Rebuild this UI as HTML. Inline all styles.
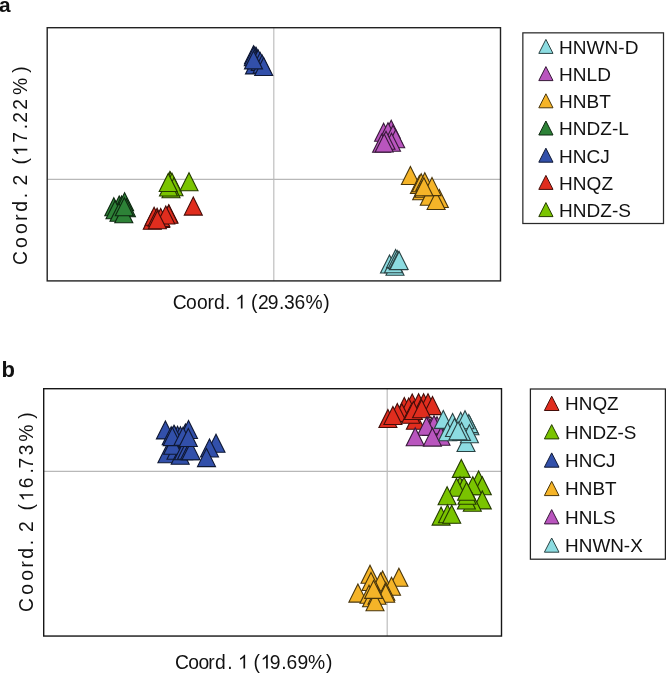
<!DOCTYPE html><html><head><meta charset="utf-8"><style>html,body{margin:0;padding:0;background:#fff}svg{display:block;will-change:transform}text{font-family:"Liberation Sans",sans-serif;fill:#111}</style></head><body>
<svg width="666" height="673" viewBox="0 0 666 673">
<rect width="666" height="673" fill="#fff"/>
<text x="-0.9" y="12.3" font-size="20.8" font-weight="bold">a</text>
<line x1="273.8" y1="27.7" x2="273.8" y2="280.9" stroke="#bfbfbf" stroke-width="1.2"/>
<line x1="47.2" y1="179.45" x2="500.5" y2="179.45" stroke="#b8b8b8" stroke-width="1.2"/>
<polygon points="389.5,255.0 380.5,273.0 398.5,273.0" fill="#8cdce1" stroke="#2a4243" stroke-width="1.1"/>
<polygon points="395.0,257.2 386.0,275.2 404.0,275.2" fill="#8cdce1" stroke="#2a4243" stroke-width="1.1"/>
<polygon points="393.5,254.7 384.5,272.7 402.5,272.7" fill="#8cdce1" stroke="#2a4243" stroke-width="1.1"/>
<polygon points="395.6,249.6 386.6,267.6 404.6,267.6" fill="#8cdce1" stroke="#2a4243" stroke-width="1.1"/>
<polygon points="397.2,250.4 388.2,268.4 406.2,268.4" fill="#8cdce1" stroke="#2a4243" stroke-width="1.1"/>
<polygon points="398.3,251.8 389.3,269.8 407.3,269.8" fill="#8cdce1" stroke="#2a4243" stroke-width="1.1"/>
<polygon points="399.1,251.5 390.1,269.5 408.1,269.5" fill="#8cdce1" stroke="#2a4243" stroke-width="1.1"/>
<polygon points="383.6,123.3 374.6,141.3 392.6,141.3" fill="#b955be" stroke="#371939" stroke-width="1.1"/>
<polygon points="391.2,120.3 382.2,138.3 400.2,138.3" fill="#b955be" stroke="#371939" stroke-width="1.1"/>
<polygon points="388.0,122.7 379.0,140.7 397.0,140.7" fill="#b955be" stroke="#371939" stroke-width="1.1"/>
<polygon points="393.0,125.2 384.0,143.2 402.0,143.2" fill="#b955be" stroke="#371939" stroke-width="1.1"/>
<polygon points="395.7,129.7 386.7,147.7 404.7,147.7" fill="#b955be" stroke="#371939" stroke-width="1.1"/>
<polygon points="391.5,133.2 382.5,151.2 400.5,151.2" fill="#b955be" stroke="#371939" stroke-width="1.1"/>
<polygon points="386.0,131.2 377.0,149.2 395.0,149.2" fill="#b955be" stroke="#371939" stroke-width="1.1"/>
<polygon points="381.6,134.2 372.6,152.2 390.6,152.2" fill="#b955be" stroke="#371939" stroke-width="1.1"/>
<polygon points="384.2,134.0 375.2,152.0 393.2,152.0" fill="#b955be" stroke="#371939" stroke-width="1.1"/>
<polygon points="410.4,166.5 401.4,184.5 419.4,184.5" fill="#f5b428" stroke="#49360c" stroke-width="1.1"/>
<polygon points="419.4,175.5 410.4,193.5 428.4,193.5" fill="#f5b428" stroke="#49360c" stroke-width="1.1"/>
<polygon points="421.2,173.7 412.2,191.7 430.2,191.7" fill="#f5b428" stroke="#49360c" stroke-width="1.1"/>
<polygon points="424.8,172.8 415.8,190.8 433.8,190.8" fill="#f5b428" stroke="#49360c" stroke-width="1.1"/>
<polygon points="421.7,181.8 412.7,199.8 430.7,199.8" fill="#f5b428" stroke="#49360c" stroke-width="1.1"/>
<polygon points="423.9,179.2 414.9,197.2 432.9,197.2" fill="#f5b428" stroke="#49360c" stroke-width="1.1"/>
<polygon points="429.3,187.2 420.3,205.2 438.3,205.2" fill="#f5b428" stroke="#49360c" stroke-width="1.1"/>
<polygon points="439.3,189.5 430.3,207.5 448.3,207.5" fill="#f5b428" stroke="#49360c" stroke-width="1.1"/>
<polygon points="436.1,191.5 427.1,209.5 445.1,209.5" fill="#f5b428" stroke="#49360c" stroke-width="1.1"/>
<polygon points="432.0,177.6 423.0,195.6 441.0,195.6" fill="#f5b428" stroke="#49360c" stroke-width="1.1"/>
<polygon points="423.9,177.8 414.9,195.8 432.9,195.8" fill="#f5b428" stroke="#49360c" stroke-width="1.1"/>
<polygon points="113.8,197.8 104.8,215.8 122.8,215.8" fill="#2d8237" stroke="#0d2710" stroke-width="1.1"/>
<polygon points="119.2,196.0 110.2,214.0 128.2,214.0" fill="#2d8237" stroke="#0d2710" stroke-width="1.1"/>
<polygon points="121.6,196.0 112.6,214.0 130.6,214.0" fill="#2d8237" stroke="#0d2710" stroke-width="1.1"/>
<polygon points="124.6,192.7 115.6,210.7 133.6,210.7" fill="#2d8237" stroke="#0d2710" stroke-width="1.1"/>
<polygon points="126.4,198.7 117.4,216.7 135.4,216.7" fill="#2d8237" stroke="#0d2710" stroke-width="1.1"/>
<polygon points="115.0,200.8 106.0,218.8 124.0,218.8" fill="#2d8237" stroke="#0d2710" stroke-width="1.1"/>
<polygon points="119.0,203.2 110.0,221.2 128.0,221.2" fill="#2d8237" stroke="#0d2710" stroke-width="1.1"/>
<polygon points="123.8,204.7 114.8,222.7 132.8,222.7" fill="#2d8237" stroke="#0d2710" stroke-width="1.1"/>
<polygon points="124.3,197.7 115.3,215.7 133.3,215.7" fill="#2d8237" stroke="#0d2710" stroke-width="1.1"/>
<polygon points="256.2,47.4 247.2,65.4 265.2,65.4" fill="#3250aa" stroke="#0f1833" stroke-width="1.1"/>
<polygon points="254.8,46.7 245.8,64.7 263.8,64.7" fill="#3250aa" stroke="#0f1833" stroke-width="1.1"/>
<polygon points="253.5,45.8 244.5,63.8 262.5,63.8" fill="#3250aa" stroke="#0f1833" stroke-width="1.1"/>
<polygon points="253.3,47.7 244.3,65.7 262.3,65.7" fill="#3250aa" stroke="#0f1833" stroke-width="1.1"/>
<polygon points="254.5,55.9 245.5,73.9 263.5,73.9" fill="#3250aa" stroke="#0f1833" stroke-width="1.1"/>
<polygon points="258.2,50.0 249.2,68.0 267.2,68.0" fill="#3250aa" stroke="#0f1833" stroke-width="1.1"/>
<polygon points="260.2,52.5 251.2,70.5 269.2,70.5" fill="#3250aa" stroke="#0f1833" stroke-width="1.1"/>
<polygon points="262.1,55.1 253.1,73.1 271.1,73.1" fill="#3250aa" stroke="#0f1833" stroke-width="1.1"/>
<polygon points="263.7,57.5 254.7,75.5 272.7,75.5" fill="#3250aa" stroke="#0f1833" stroke-width="1.1"/>
<polygon points="253.5,50.9 244.5,68.9 262.5,68.9" fill="#3250aa" stroke="#0f1833" stroke-width="1.1"/>
<polygon points="152.3,211.2 143.3,229.2 161.3,229.2" fill="#e02d1e" stroke="#430d09" stroke-width="1.1"/>
<polygon points="154.1,207.2 145.1,225.2 163.1,225.2" fill="#e02d1e" stroke="#430d09" stroke-width="1.1"/>
<polygon points="157.1,208.2 148.1,226.2 166.1,226.2" fill="#e02d1e" stroke="#430d09" stroke-width="1.1"/>
<polygon points="160.7,209.5 151.7,227.5 169.7,227.5" fill="#e02d1e" stroke="#430d09" stroke-width="1.1"/>
<polygon points="160.7,208.5 151.7,226.5 169.7,226.5" fill="#e02d1e" stroke="#430d09" stroke-width="1.1"/>
<polygon points="168.8,204.8 159.8,222.8 177.8,222.8" fill="#e02d1e" stroke="#430d09" stroke-width="1.1"/>
<polygon points="168.8,205.3 159.8,223.3 177.8,223.3" fill="#e02d1e" stroke="#430d09" stroke-width="1.1"/>
<polygon points="165.8,206.0 156.8,224.0 174.8,224.0" fill="#e02d1e" stroke="#430d09" stroke-width="1.1"/>
<polygon points="157.4,210.8 148.4,228.8 166.4,228.8" fill="#e02d1e" stroke="#430d09" stroke-width="1.1"/>
<polygon points="193.3,197.1 184.3,215.1 202.3,215.1" fill="#e02d1e" stroke="#430d09" stroke-width="1.1"/>
<polygon points="169.9,171.6 160.9,189.6 178.9,189.6" fill="#7ac400" stroke="#243a00" stroke-width="1.1"/>
<polygon points="170.5,172.2 161.5,190.2 179.5,190.2" fill="#7ac400" stroke="#243a00" stroke-width="1.1"/>
<polygon points="172.0,173.2 163.0,191.2 181.0,191.2" fill="#7ac400" stroke="#243a00" stroke-width="1.1"/>
<polygon points="174.0,177.7 165.0,195.7 183.0,195.7" fill="#7ac400" stroke="#243a00" stroke-width="1.1"/>
<polygon points="171.0,179.7 162.0,197.7 180.0,197.7" fill="#7ac400" stroke="#243a00" stroke-width="1.1"/>
<polygon points="168.5,178.0 159.5,196.0 177.5,196.0" fill="#7ac400" stroke="#243a00" stroke-width="1.1"/>
<polygon points="168.2,173.5 159.2,191.5 177.2,191.5" fill="#7ac400" stroke="#243a00" stroke-width="1.1"/>
<polygon points="189.0,172.7 180.0,190.7 198.0,190.7" fill="#7ac400" stroke="#243a00" stroke-width="1.1"/>
<rect x="47.2" y="27.7" width="453.3" height="253.2" fill="none" stroke="#222" stroke-width="1.4"/>
<text x="172.81 185.93 197.03 207.41 214.05 225.02 228.02 231.02 234.02 250.89 257.93 267.84 279.02 284.04 294.47 305.57 323.28" y="308.5" font-size="19.3">Coord. &#160; (29.36%)</text>
<path transform="translate(0,308.5) translate(235.35,0) scale(0.009424,-0.009424)" d="M763 0L583 0L583 1147Q518 1085 412 1023Q307 961 223 930L223 1104Q374 1175 487 1276Q600 1377 647 1472L763 1472Z" fill="#111"/>
<text transform="translate(27.3,265.4) rotate(-90)" font-size="19.3" x="0.4 17.36 31.44 44.56 53.64 67.15 75 80.02 93 100.86 107.82 122.69 136.27 142.57 155.74 170.37 192.67">Coord. 2 (&#160;7.22%)</text>
<path transform="translate(27.3,265.4) rotate(-90) translate(109.35,0) scale(0.009424,-0.009424)" d="M763 0L583 0L583 1147Q518 1085 412 1023Q307 961 223 930L223 1104Q374 1175 487 1276Q600 1377 647 1472L763 1472Z" fill="#111"/>
<rect x="522.85" y="32.85" width="140.65" height="190.65" fill="none" stroke="#2a2a2a" stroke-width="1.25"/>
<polygon points="545.9,39.4 538.8,53.4 553.0,53.4" fill="#8cdce1" stroke="#2a4243" stroke-width="1.0"/>
<text x="559.1" y="53.8" font-size="19.05">HNWN-D</text>
<polygon points="545.9,66.6 538.8,80.6 553.0,80.6" fill="#b955be" stroke="#371939" stroke-width="1.0"/>
<text x="559.1" y="81.0" font-size="19.05">HNLD</text>
<polygon points="545.9,93.8 538.8,107.8 553.0,107.8" fill="#f5b428" stroke="#49360c" stroke-width="1.0"/>
<text x="559.1" y="108.2" font-size="19.05">HNBT</text>
<polygon points="545.9,121.0 538.8,135.0 553.0,135.0" fill="#2d8237" stroke="#0d2710" stroke-width="1.0"/>
<text x="559.1" y="135.4" font-size="19.05">HNDZ-L</text>
<polygon points="545.9,148.2 538.8,162.2 553.0,162.2" fill="#3250aa" stroke="#0f1833" stroke-width="1.0"/>
<text x="559.1" y="162.6" font-size="19.05">HNCJ</text>
<polygon points="545.9,175.4 538.8,189.4 553.0,189.4" fill="#e02d1e" stroke="#430d09" stroke-width="1.0"/>
<text x="559.1" y="189.8" font-size="19.05">HNQZ</text>
<polygon points="545.9,202.6 538.8,216.6 553.0,216.6" fill="#7ac400" stroke="#243a00" stroke-width="1.0"/>
<text x="559.1" y="217.0" font-size="19.05">HNDZ-S</text>
<text x="1.4" y="376.8" font-size="22" font-weight="bold">b</text>
<line x1="387.2" y1="388.7" x2="387.2" y2="636" stroke="#bdbdbd" stroke-width="1.2"/>
<line x1="43.7" y1="471.3" x2="501.5" y2="471.3" stroke="#b8b8b8" stroke-width="1.2"/>
<polygon points="412.2,394.1 403.2,412.1 421.2,412.1" fill="#e02d1e" stroke="#430d09" stroke-width="1.1"/>
<polygon points="418.6,393.7 409.6,411.7 427.6,411.7" fill="#e02d1e" stroke="#430d09" stroke-width="1.1"/>
<polygon points="423.6,393.7 414.6,411.7 432.6,411.7" fill="#e02d1e" stroke="#430d09" stroke-width="1.1"/>
<polygon points="428.0,393.7 419.0,411.7 437.0,411.7" fill="#e02d1e" stroke="#430d09" stroke-width="1.1"/>
<polygon points="432.5,396.6 423.5,414.6 441.5,414.6" fill="#e02d1e" stroke="#430d09" stroke-width="1.1"/>
<polygon points="404.3,397.6 395.3,415.6 413.3,415.6" fill="#e02d1e" stroke="#430d09" stroke-width="1.1"/>
<polygon points="408.7,398.1 399.7,416.1 417.7,416.1" fill="#e02d1e" stroke="#430d09" stroke-width="1.1"/>
<polygon points="401.8,403.8 392.8,421.8 410.8,421.8" fill="#e02d1e" stroke="#430d09" stroke-width="1.1"/>
<polygon points="397.3,403.6 388.3,421.6 406.3,421.6" fill="#e02d1e" stroke="#430d09" stroke-width="1.1"/>
<polygon points="387.9,409.5 378.9,427.5 396.9,427.5" fill="#e02d1e" stroke="#430d09" stroke-width="1.1"/>
<polygon points="392.9,406.5 383.9,424.5 401.9,424.5" fill="#e02d1e" stroke="#430d09" stroke-width="1.1"/>
<polygon points="415.4,411.2 406.4,429.2 424.4,429.2" fill="#e02d1e" stroke="#430d09" stroke-width="1.1"/>
<polygon points="410.8,405.2 401.8,423.2 419.8,423.2" fill="#e02d1e" stroke="#430d09" stroke-width="1.1"/>
<polygon points="413.4,401.5 404.4,419.5 422.4,419.5" fill="#e02d1e" stroke="#430d09" stroke-width="1.1"/>
<polygon points="421.6,399.7 412.6,417.7 430.6,417.7" fill="#e02d1e" stroke="#430d09" stroke-width="1.1"/>
<polygon points="461.3,459.4 452.3,477.4 470.3,477.4" fill="#7ac400" stroke="#243a00" stroke-width="1.1"/>
<polygon points="478.6,471.0 469.6,489.0 487.6,489.0" fill="#7ac400" stroke="#243a00" stroke-width="1.1"/>
<polygon points="482.3,476.7 473.3,494.7 491.3,494.7" fill="#7ac400" stroke="#243a00" stroke-width="1.1"/>
<polygon points="472.8,476.7 463.8,494.7 481.8,494.7" fill="#7ac400" stroke="#243a00" stroke-width="1.1"/>
<polygon points="460.0,476.7 451.0,494.7 469.0,494.7" fill="#7ac400" stroke="#243a00" stroke-width="1.1"/>
<polygon points="463.9,477.3 454.9,495.3 472.9,495.3" fill="#7ac400" stroke="#243a00" stroke-width="1.1"/>
<polygon points="456.5,478.3 447.5,496.3 465.5,496.3" fill="#7ac400" stroke="#243a00" stroke-width="1.1"/>
<polygon points="447.1,486.7 438.1,504.7 456.1,504.7" fill="#7ac400" stroke="#243a00" stroke-width="1.1"/>
<polygon points="482.3,490.9 473.3,508.9 491.3,508.9" fill="#7ac400" stroke="#243a00" stroke-width="1.1"/>
<polygon points="472.3,493.2 463.3,511.2 481.3,511.2" fill="#7ac400" stroke="#243a00" stroke-width="1.1"/>
<polygon points="466.4,491.0 457.4,509.0 475.4,509.0" fill="#7ac400" stroke="#243a00" stroke-width="1.1"/>
<polygon points="467.0,486.2 458.0,504.2 476.0,504.2" fill="#7ac400" stroke="#243a00" stroke-width="1.1"/>
<polygon points="466.6,482.2 457.6,500.2 475.6,500.2" fill="#7ac400" stroke="#243a00" stroke-width="1.1"/>
<polygon points="441.1,507.1 432.1,525.1 450.1,525.1" fill="#7ac400" stroke="#243a00" stroke-width="1.1"/>
<polygon points="447.5,504.8 438.5,522.8 456.5,522.8" fill="#7ac400" stroke="#243a00" stroke-width="1.1"/>
<polygon points="451.7,505.2 442.7,523.2 460.7,523.2" fill="#7ac400" stroke="#243a00" stroke-width="1.1"/>
<polygon points="165.4,420.9 156.4,438.9 174.4,438.9" fill="#3250aa" stroke="#0f1833" stroke-width="1.1"/>
<polygon points="171.2,426.7 162.2,444.7 180.2,444.7" fill="#3250aa" stroke="#0f1833" stroke-width="1.1"/>
<polygon points="174.6,426.2 165.6,444.2 183.6,444.2" fill="#3250aa" stroke="#0f1833" stroke-width="1.1"/>
<polygon points="177.5,426.2 168.5,444.2 186.5,444.2" fill="#3250aa" stroke="#0f1833" stroke-width="1.1"/>
<polygon points="180.4,426.7 171.4,444.7 189.4,444.7" fill="#3250aa" stroke="#0f1833" stroke-width="1.1"/>
<polygon points="185.4,423.9 176.4,441.9 194.4,441.9" fill="#3250aa" stroke="#0f1833" stroke-width="1.1"/>
<polygon points="188.5,420.5 179.5,438.5 197.5,438.5" fill="#3250aa" stroke="#0f1833" stroke-width="1.1"/>
<polygon points="166.9,444.8 157.9,462.8 175.9,462.8" fill="#3250aa" stroke="#0f1833" stroke-width="1.1"/>
<polygon points="176.0,441.2 167.0,459.2 185.0,459.2" fill="#3250aa" stroke="#0f1833" stroke-width="1.1"/>
<polygon points="180.2,446.2 171.2,464.2 189.2,464.2" fill="#3250aa" stroke="#0f1833" stroke-width="1.1"/>
<polygon points="172.7,436.2 163.7,454.2 181.7,454.2" fill="#3250aa" stroke="#0f1833" stroke-width="1.1"/>
<polygon points="183.5,441.7 174.5,459.7 192.5,459.7" fill="#3250aa" stroke="#0f1833" stroke-width="1.1"/>
<polygon points="186.5,441.2 177.5,459.2 195.5,459.2" fill="#3250aa" stroke="#0f1833" stroke-width="1.1"/>
<polygon points="189.5,441.7 180.5,459.7 198.5,459.7" fill="#3250aa" stroke="#0f1833" stroke-width="1.1"/>
<polygon points="191.0,441.7 182.0,459.7 200.0,459.7" fill="#3250aa" stroke="#0f1833" stroke-width="1.1"/>
<polygon points="174.0,425.2 165.0,443.2 183.0,443.2" fill="#3250aa" stroke="#0f1833" stroke-width="1.1"/>
<polygon points="172.3,427.6 163.3,445.6 181.3,445.6" fill="#3250aa" stroke="#0f1833" stroke-width="1.1"/>
<polygon points="183.0,427.2 174.0,445.2 192.0,445.2" fill="#3250aa" stroke="#0f1833" stroke-width="1.1"/>
<polygon points="188.3,428.5 179.3,446.5 197.3,446.5" fill="#3250aa" stroke="#0f1833" stroke-width="1.1"/>
<polygon points="216.0,434.2 207.0,452.2 225.0,452.2" fill="#3250aa" stroke="#0f1833" stroke-width="1.1"/>
<polygon points="209.5,439.0 200.5,457.0 218.5,457.0" fill="#3250aa" stroke="#0f1833" stroke-width="1.1"/>
<polygon points="206.5,448.6 197.5,466.6 215.5,466.6" fill="#3250aa" stroke="#0f1833" stroke-width="1.1"/>
<polygon points="370.0,565.2 361.0,583.2 379.0,583.2" fill="#f5b428" stroke="#49360c" stroke-width="1.1"/>
<polygon points="382.6,571.0 373.6,589.0 391.6,589.0" fill="#f5b428" stroke="#49360c" stroke-width="1.1"/>
<polygon points="380.5,573.1 371.5,591.1 389.5,591.1" fill="#f5b428" stroke="#49360c" stroke-width="1.1"/>
<polygon points="398.9,568.3 389.9,586.3 407.9,586.3" fill="#f5b428" stroke="#49360c" stroke-width="1.1"/>
<polygon points="391.5,577.3 382.5,595.3 400.5,595.3" fill="#f5b428" stroke="#49360c" stroke-width="1.1"/>
<polygon points="371.0,572.5 362.0,590.5 380.0,590.5" fill="#f5b428" stroke="#49360c" stroke-width="1.1"/>
<polygon points="357.9,584.1 348.9,602.1 366.9,602.1" fill="#f5b428" stroke="#49360c" stroke-width="1.1"/>
<polygon points="385.8,582.2 376.8,600.2 394.8,600.2" fill="#f5b428" stroke="#49360c" stroke-width="1.1"/>
<polygon points="385.7,584.2 376.7,602.2 394.7,602.2" fill="#f5b428" stroke="#49360c" stroke-width="1.1"/>
<polygon points="369.0,585.2 360.0,603.2 378.0,603.2" fill="#f5b428" stroke="#49360c" stroke-width="1.1"/>
<polygon points="371.6,588.7 362.6,606.7 380.6,606.7" fill="#f5b428" stroke="#49360c" stroke-width="1.1"/>
<polygon points="377.0,586.2 368.0,604.2 386.0,604.2" fill="#f5b428" stroke="#49360c" stroke-width="1.1"/>
<polygon points="375.0,592.7 366.0,610.7 384.0,610.7" fill="#f5b428" stroke="#49360c" stroke-width="1.1"/>
<polygon points="373.6,580.4 364.6,598.4 382.6,598.4" fill="#f5b428" stroke="#49360c" stroke-width="1.1"/>
<polygon points="428.0,416.7 419.0,434.7 437.0,434.7" fill="#b955be" stroke="#371939" stroke-width="1.1"/>
<polygon points="431.7,417.5 422.7,435.5 440.7,435.5" fill="#b955be" stroke="#371939" stroke-width="1.1"/>
<polygon points="434.5,417.2 425.5,435.2 443.5,435.2" fill="#b955be" stroke="#371939" stroke-width="1.1"/>
<polygon points="437.0,416.7 428.0,434.7 446.0,434.7" fill="#b955be" stroke="#371939" stroke-width="1.1"/>
<polygon points="434.0,415.7 425.0,433.7 443.0,433.7" fill="#b955be" stroke="#371939" stroke-width="1.1"/>
<polygon points="441.0,427.2 432.0,445.2 450.0,445.2" fill="#b955be" stroke="#371939" stroke-width="1.1"/>
<polygon points="426.5,417.2 417.5,435.2 435.5,435.2" fill="#b955be" stroke="#371939" stroke-width="1.1"/>
<polygon points="415.2,427.7 406.2,445.7 424.2,445.7" fill="#b955be" stroke="#371939" stroke-width="1.1"/>
<polygon points="432.4,428.1 423.4,446.1 441.4,446.1" fill="#b955be" stroke="#371939" stroke-width="1.1"/>
<polygon points="443.3,410.4 434.3,428.4 452.3,428.4" fill="#8cdce1" stroke="#2a4243" stroke-width="1.1"/>
<polygon points="452.6,413.5 443.6,431.5 461.6,431.5" fill="#8cdce1" stroke="#2a4243" stroke-width="1.1"/>
<polygon points="460.7,412.3 451.7,430.3 469.7,430.3" fill="#8cdce1" stroke="#2a4243" stroke-width="1.1"/>
<polygon points="469.9,416.7 460.9,434.7 478.9,434.7" fill="#8cdce1" stroke="#2a4243" stroke-width="1.1"/>
<polygon points="468.8,414.6 459.8,432.6 477.8,432.6" fill="#8cdce1" stroke="#2a4243" stroke-width="1.1"/>
<polygon points="465.0,410.8 456.0,428.8 474.0,428.8" fill="#8cdce1" stroke="#2a4243" stroke-width="1.1"/>
<polygon points="466.0,433.5 457.0,451.5 475.0,451.5" fill="#8cdce1" stroke="#2a4243" stroke-width="1.1"/>
<polygon points="469.4,424.8 460.4,442.8 478.4,442.8" fill="#8cdce1" stroke="#2a4243" stroke-width="1.1"/>
<polygon points="447.6,422.7 438.6,440.7 456.6,440.7" fill="#8cdce1" stroke="#2a4243" stroke-width="1.1"/>
<polygon points="454.5,418.5 445.5,436.5 463.5,436.5" fill="#8cdce1" stroke="#2a4243" stroke-width="1.1"/>
<polygon points="461.5,422.4 452.5,440.4 470.5,440.4" fill="#8cdce1" stroke="#2a4243" stroke-width="1.1"/>
<polygon points="458.0,421.7 449.0,439.7 467.0,439.7" fill="#8cdce1" stroke="#2a4243" stroke-width="1.1"/>
<rect x="43.7" y="388.7" width="457.8" height="247.35" fill="none" stroke="#161616" stroke-width="1.4"/>
<text x="175.01 188.23 198.43 208.21 215.05 227.22 230.22 233.22 236.22 253.49 256.49 269.69 281.22 286.52 297.49 307.92 325.98" y="668.6" font-size="19.3">Coord. &#160; (&#160;9.69%)</text>
<path transform="translate(0,668.6) translate(237.95,0) scale(0.009424,-0.009424)" d="M763 0L583 0L583 1147Q518 1085 412 1023Q307 961 223 930L223 1104Q374 1175 487 1276Q600 1377 647 1472L763 1472Z" fill="#111"/>
<path transform="translate(0,668.6) translate(260.6,0) scale(0.009424,-0.009424)" d="M763 0L583 0L583 1147Q518 1085 412 1023Q307 961 223 930L223 1104Q374 1175 487 1276Q600 1377 647 1472L763 1472Z" fill="#111"/>
<text transform="translate(33.2,612.2) rotate(-90)" font-size="19.3" x="0.3 17.42 31.44 44.76 53.49 67.0 75 80.22 92 101.6 109.02 123.85 138.68 143.73 156.96 170.47 193.52">Coord. 2 (&#160;6.73%)</text>
<path transform="translate(33.2,612.2) rotate(-90) translate(110.85,0) scale(0.009424,-0.009424)" d="M763 0L583 0L583 1147Q518 1085 412 1023Q307 961 223 930L223 1104Q374 1175 487 1276Q600 1377 647 1472L763 1472Z" fill="#111"/>
<rect x="530.4" y="389.0" width="135" height="170.2" fill="none" stroke="#222" stroke-width="1.25"/>
<polygon points="551.7,396.2 544.4,410.5 559.0,410.5" fill="#e02d1e" stroke="#430d09" stroke-width="1.0"/>
<text x="565.1" y="410.3" font-size="18.9">HNQZ</text>
<polygon points="551.7,424.6 544.4,438.9 559.0,438.9" fill="#7ac400" stroke="#243a00" stroke-width="1.0"/>
<text x="565.1" y="438.7" font-size="18.9">HNDZ-S</text>
<polygon points="551.7,452.9 544.4,467.2 559.0,467.2" fill="#3250aa" stroke="#0f1833" stroke-width="1.0"/>
<text x="565.1" y="467.0" font-size="18.9">HNCJ</text>
<polygon points="551.7,481.3 544.4,495.6 559.0,495.6" fill="#f5b428" stroke="#49360c" stroke-width="1.0"/>
<text x="565.1" y="495.4" font-size="18.9">HNBT</text>
<polygon points="551.7,509.6 544.4,523.9 559.0,523.9" fill="#b955be" stroke="#371939" stroke-width="1.0"/>
<text x="565.1" y="523.7" font-size="18.9">HNLS</text>
<polygon points="551.7,538.0 544.4,552.2 559.0,552.2" fill="#8cdce1" stroke="#2a4243" stroke-width="1.0"/>
<text x="565.1" y="552.1" font-size="18.9">HNWN-X</text>
</svg></body></html>
